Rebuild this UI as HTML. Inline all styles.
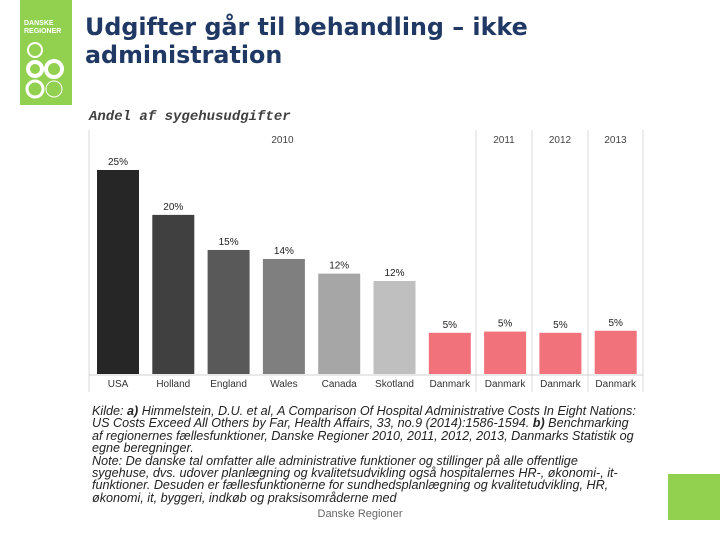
<!DOCTYPE html>
<html><head><meta charset="utf-8"><style>
body{margin:0;width:720px;height:540px;background:#fff;position:relative;overflow:hidden;font-family:"Liberation Sans",sans-serif}
.abs{position:absolute}
</style></head><body>
<div class="abs" style="left:20px;top:0;width:52px;height:105px;background:#92d050">
<div style="position:absolute;left:4px;top:20px;color:#fff;font-size:7px;line-height:8px;font-weight:bold">DANSKE<br>REGIONER</div>
<svg width="52" height="105" style="position:absolute;left:0;top:0">
<circle cx="15" cy="50" r="7" fill="none" stroke="#fff" stroke-width="2"/>
<circle cx="15" cy="69" r="7" fill="none" stroke="#fff" stroke-width="4"/>
<circle cx="34" cy="69" r="8" fill="none" stroke="#fff" stroke-width="4"/>
<circle cx="15" cy="89" r="8" fill="none" stroke="#fff" stroke-width="3"/>
<circle cx="34" cy="89" r="8" fill="none" stroke="#fff" stroke-width="1"/>
</svg></div>
<div class="abs" style="left:85px;top:13px;color:#1f3864;font-size:23.8px;font-weight:bold;line-height:28px;font-family:'DejaVu Sans',sans-serif;white-space:nowrap">Udgifter går til behandling – ikke<br>administration</div>
<div class="abs" style="left:89px;top:109px;color:#404040;font-size:14px;font-weight:bold;font-style:italic;font-family:'Liberation Mono',monospace">Andel af sygehusudgifter</div>
<svg class="abs" style="left:0;top:0" width="720" height="540" id="chart"></svg>
<div class="abs" style="left:92px;top:405px;white-space:nowrap;font-size:12.6px;font-style:italic;line-height:12.4px;color:#222">Kilde: <b>a)</b> Himmelstein, D.U. et al, A Comparison Of Hospital Administrative Costs In Eight Nations:<br>US Costs Exceed All Others by Far, Health Affairs, 33, no.9 (2014):1586-1594. <b>b)</b> Benchmarking<br>af regionernes fællesfunktioner, Danske Regioner 2010, 2011, 2012, 2013, Danmarks Statistik og<br>egne beregninger.<br>Note: De danske tal omfatter alle administrative funktioner og stillinger på alle offentlige<br>sygehuse, dvs. udover planlægning og kvalitetsudvikling også hospitalernes HR-, økonomi-, it-<br>funktioner. Desuden er fællesfunktionerne for sundhedsplanlægning og kvalitetudvikling, HR,<br>økonomi, it, byggeri, indkøb og praksisområderne med</div>
<div class="abs" style="left:0;width:720px;top:508px;text-align:center;font-size:11px;color:#666">Danske Regioner</div>
<div class="abs" style="left:668px;top:474px;width:52px;height:46px;background:#92d050"></div>
<script>
const categories=["USA","Holland","England","Wales","Canada","Skotland","Danmark","Danmark","Danmark","Danmark"];
const values=[25,19.5,15.2,14.1,12.3,11.4,5.05,5.2,5.05,5.3];
const valueLabels=["25%","20%","15%","14%","12%","12%","5%","5%","5%","5%"];
const colors=["#262626","#404040","#595959","#7f7f7f","#a6a6a6","#bfbfbf","#f2727c","#f2727c","#f2727c","#f2727c"];
const years=["2010","2011","2012","2013"];
const svg=document.getElementById('chart');const NS="http://www.w3.org/2000/svg";
const base=374,ppu=204/25,x0=97,step=55.3,bw=42;
const y=v=>base-v*ppu;const xb=i=>x0+i*step;
function mk(t,a){const e=document.createElementNS(NS,t);for(const k in a)e.setAttribute(k,a[k]);svg.appendChild(e);return e;}
const seps=[89,476,532,588,643];
seps.forEach(s=>{const l=mk('line',{x1:s,x2:s,y1:130,y2:392,stroke:'#d9d9d9','stroke-width':1});

});
const ax=mk('line',{x1:89,x2:643,y1:375,y2:375,stroke:'#d0d0d0'});


const yc=[(89+476)/2,(476+532)/2,(532+588)/2,(588+643)/2];
years.forEach((t,i)=>{const e=mk('text',{x:yc[i],y:143,'text-anchor':'middle','font-size':10,fill:'#444','font-family':'Liberation Sans'});e.textContent=t;

});
values.forEach((v,i)=>{
const r=mk('rect',{x:xb(i),y:y(v),width:bw,height:base-y(v),fill:colors[i]});


const t=mk('text',{x:xb(i)+bw/2,y:y(v)-5,'text-anchor':'middle','font-size':10,fill:'#222','font-family':'Liberation Sans'});t.textContent=valueLabels[i];


const c=mk('text',{x:xb(i)+bw/2,y:387,'text-anchor':'middle','font-size':10,fill:'#333','font-family':'Liberation Sans'});c.textContent=categories[i];


});
</script>
</body></html>
